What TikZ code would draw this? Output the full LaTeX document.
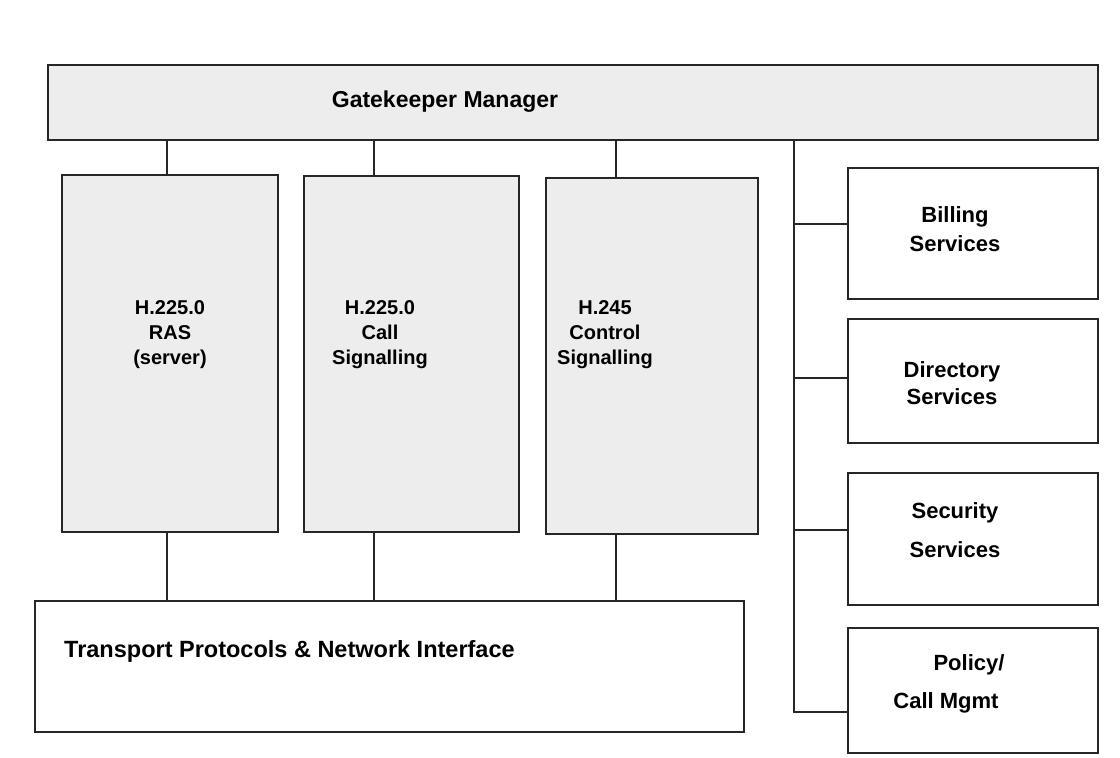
\documentclass[tikz,border=0pt]{standalone}
\usepackage{fontspec}
\setmainfont{Liberation Sans}
\begin{document}
\begin{tikzpicture}[x=1pt,y=-1pt,
  box/.style={draw=black!85,line width=1.6pt,inner sep=0pt,anchor=north west},
  shaded/.style={box,fill=black!7},
  plain/.style={box,fill=white},
  lbl/.style={font=\fontsize{20}{25}\selectfont\bfseries,align=center,inner sep=0pt},
  blbl/.style={font=\fontsize{22}{30}\selectfont\bfseries,align=center,inner sep=0pt},
  conn/.style={draw=black!85,line width=1.5pt}]
\useasboundingbox (0,0) rectangle (1120,758);
\fill[white] (0,0) rectangle (1120,758);
% boxes
\node[shaded,minimum width=1050pt,minimum height=75pt] (gk) at (47,64) {};
\node[shaded,minimum width=216pt,minimum height=357pt] (ras) at (61,174) {};
\node[shaded,minimum width=215pt,minimum height=356pt] (call) at (303,175) {};
\node[shaded,minimum width=212pt,minimum height=356pt] (h245) at (545,177) {};
\node[plain,minimum width=709pt,minimum height=131pt] (tp) at (34,600) {};
\node[plain,minimum width=250pt,minimum height=131pt] (bill) at (847,167) {};
\node[plain,minimum width=250pt,minimum height=124pt] (dir) at (847,318) {};
\node[plain,minimum width=250pt,minimum height=132pt] (sec) at (847,472) {};
\node[plain,minimum width=250pt,minimum height=125pt] (pol) at (847,627) {};
% texts
\node[blbl,font=\fontsize{23}{30}\selectfont\bfseries] (gkt) at (445,102) {Gatekeeper Manager};
\node[lbl] (rast) at (170,335) {H.225.0\\RAS\\(server)};
\node[lbl] (callt) at (380,335) {H.225.0\\Call\\Signalling};
\node[lbl] (h245t) at (605,335) {H.245\\Control\\Signalling};
\node[blbl,anchor=west,font=\fontsize{23.5}{30}\selectfont\bfseries] (tpt) at (64,651) {Transport Protocols \& Network Interface};
\node[blbl] (billt) at (955,229) {Billing\\[-1pt]Services};
\node[blbl] (dirt) at (952,383) {Directory\\[-3pt]Services};
\node[blbl] (sect) at (955,530) {Security\\[9pt]Services};
\node[blbl] (polt1) at (969,665) {Policy/};
\node[blbl] (polt2) at (946,703) {Call Mgmt};
% connectors
\coordinate (x1) at (167,0);
\coordinate (x2) at (374,0);
\coordinate (x3) at (616,0);
\coordinate (bx) at (794,0);
\draw[conn] (gk.south -| x1) -- (ras.north -| x1);
\draw[conn] (gk.south -| x2) -- (call.north -| x2);
\draw[conn] (gk.south -| x3) -- (h245.north -| x3);
\draw[conn] (ras.south -| x1) -- (tp.north -| x1);
\draw[conn] (call.south -| x2) -- (tp.north -| x2);
\draw[conn] (h245.south -| x3) -- (tp.north -| x3);
\coordinate (pe) at (794,712);
\draw[conn] (gk.south -| bx) -- (pe) -- (pol.west |- pe);
\coordinate (b1) at (794,224);
\coordinate (b2) at (794,378);
\coordinate (b3) at (794,530);
\draw[conn] (b1) -- (bill.west |- b1);
\draw[conn] (b2) -- (dir.west |- b2);
\draw[conn] (b3) -- (sec.west |- b3);
\end{tikzpicture}
\end{document}
